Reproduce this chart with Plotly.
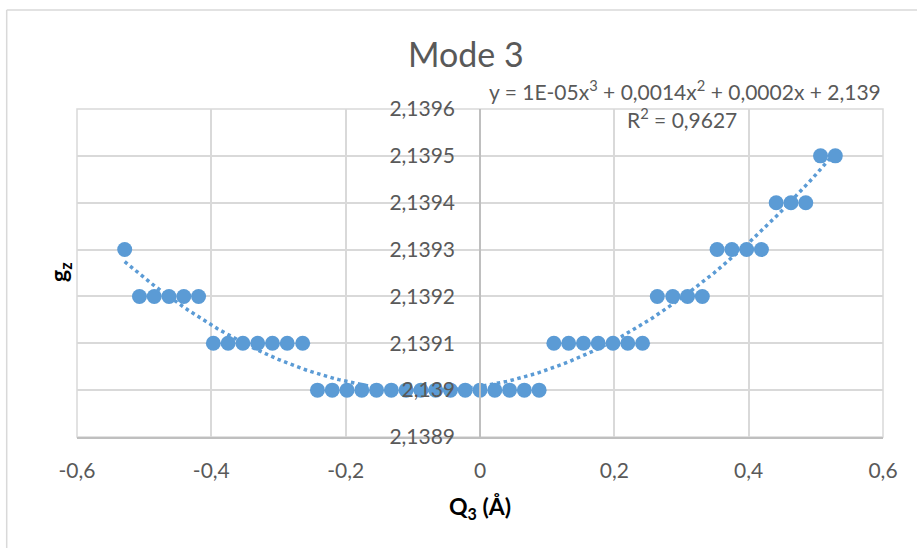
import numpy as np
import plotly.graph_objects as go

# ---- data ----
q3 = [-0.529, -0.507, -0.485, -0.463, -0.441, -0.419, -0.397, -0.375, -0.353, -0.331,
      -0.309, -0.287, -0.264, -0.242, -0.220, -0.198, -0.176, -0.154, -0.132, -0.110,
      -0.088, -0.066, -0.044, -0.022, 0.000, 0.022, 0.044, 0.066, 0.088, 0.110,
      0.132, 0.154, 0.176, 0.198, 0.220, 0.242, 0.264, 0.287, 0.309, 0.331,
      0.353, 0.375, 0.397, 0.419, 0.441, 0.463, 0.485, 0.507, 0.529]
gz = [2.1393, 2.1392, 2.1392, 2.1392, 2.1392, 2.1392, 2.1391, 2.1391, 2.1391, 2.1391,
      2.1391, 2.1391, 2.1391, 2.1390, 2.1390, 2.1390, 2.1390, 2.1390, 2.1390, 2.1390,
      2.1390, 2.1390, 2.1390, 2.1390, 2.1390, 2.1390, 2.1390, 2.1390, 2.1390, 2.1391,
      2.1391, 2.1391, 2.1391, 2.1391, 2.1391, 2.1391, 2.1392, 2.1392, 2.1392, 2.1392,
      2.1393, 2.1393, 2.1393, 2.1393, 2.1394, 2.1394, 2.1394, 2.1395, 2.1395]

x_tickvals = [-0.6, -0.4, -0.2, 0.0, 0.2, 0.4, 0.6]
x_ticktext = ["-0,6", "-0,4", "-0,2", "0", "0,2", "0,4", "0,6"]
y_tickvals = [2.1389, 2.1390, 2.1391, 2.1392, 2.1393, 2.1394, 2.1395, 2.1396]
y_ticktext = ["2,1389", "2,139", "2,1391", "2,1392", "2,1393", "2,1394", "2,1395", "2,1396"]

title_text = "Mode 3"
equation_text = "y = 1E-05x<sup>3</sup> + 0,0014x<sup>2</sup> + 0,0002x + 2,139"
r2_text = "R<sup>2</sup> = 0,9627"

# polynomial (order 3) trendline fitted to the data
coef = np.polyfit(np.array(q3), np.array(gz) - 2.139, 3)
xfit = np.linspace(min(q3), max(q3), 200)
yfit = np.polyval(coef, xfit) + 2.139

BLUE = "#5B9BD5"
TXT = "#595959"
GRID = "#D9D9D9"
FONT = "Lato"

fig = go.Figure()
fig.add_trace(go.Scatter(x=xfit, y=yfit, mode="lines",
                         line=dict(color=BLUE, width=3.5, dash="3.5px,3.5px"),
                         hoverinfo="skip", showlegend=False))
fig.add_trace(go.Scatter(x=q3, y=gz, mode="markers",
                         marker=dict(color=BLUE, size=15, line=dict(width=0)),
                         showlegend=False))

fig.update_layout(
    width=917, height=548, autosize=False,
    margin=dict(l=77, r=34, t=109, b=111),
    paper_bgcolor="white", plot_bgcolor="white",
    font=dict(family=FONT, color=TXT, size=21),
    xaxis=dict(range=[-0.6, 0.6], tickvals=x_tickvals, ticktext=x_ticktext,
               showgrid=True, gridcolor=GRID, gridwidth=1.5, zeroline=False,
               showline=True, linecolor="#BFBFBF", linewidth=1.5,
               ticks="", ticklabelstandoff=14,
               tickfont=dict(family=FONT, size=21, color=TXT)),
    yaxis=dict(range=[2.1389, 2.1396], tickvals=y_tickvals, ticktext=y_ticktext,
               anchor="free", position=0.5,
               showgrid=True, gridcolor=GRID, gridwidth=1.5, zeroline=False,
               showline=True, linecolor="#BFBFBF", linewidth=1.5,
               ticks="", ticklabelstandoff=20,
               tickfont=dict(family=FONT, size=21, color=TXT)),
    annotations=[
        dict(text=title_text, xref="paper", yref="paper",
             x=(466 - 77) / 806, y=(437 - 54) / 328, xanchor="center", yanchor="middle",
             showarrow=False, font=dict(family=FONT, size=34, color=TXT)),
        dict(text=equation_text, xref="paper", yref="paper",
             x=(685 - 77) / 806, y=(437 - 90) / 328, xanchor="center", yanchor="middle",
             showarrow=False, font=dict(family=FONT, size=21, color=TXT)),
        dict(text=r2_text, xref="paper", yref="paper",
             x=(682 - 77) / 806, y=(437 - 118) / 328, xanchor="center", yanchor="middle",
             showarrow=False, font=dict(family=FONT, size=21, color=TXT)),
        dict(text="<b>Q<sub>3</sub> (Å)</b>", xref="paper", yref="paper",
             x=(480 - 77) / 806, y=(437 - 507) / 328, xanchor="center", yanchor="middle",
             showarrow=False, font=dict(family=FONT, size=23, color="#000000")),
        dict(text="<b>g<sub>z</sub></b>", xref="paper", yref="paper",
             x=(59 - 77) / 806, y=(437 - 272) / 328, xanchor="center", yanchor="middle",
             textangle=-90, showarrow=False, font=dict(family=FONT, size=23, color="#000000")),
    ],
    shapes=[
        dict(type="rect", xref="paper", yref="paper", x0=0, x1=1, y0=0, y1=1,
             layer="below", line=dict(color=GRID, width=1.5)),
        dict(type="line", xref="paper", yref="paper",
             x0=(6.7 - 77) / 806, x1=(6.7 - 77) / 806, y0=(437 - 10) / 328, y1=(437 - 560) / 328,
             line=dict(color=GRID, width=1.5)),
        dict(type="line", xref="paper", yref="paper",
             x0=(6.7 - 77) / 806, x1=(930 - 77) / 806, y0=(437 - 10) / 328, y1=(437 - 10) / 328,
             line=dict(color=GRID, width=1.5)),
    ],
)

fig.write_html("out.html")
